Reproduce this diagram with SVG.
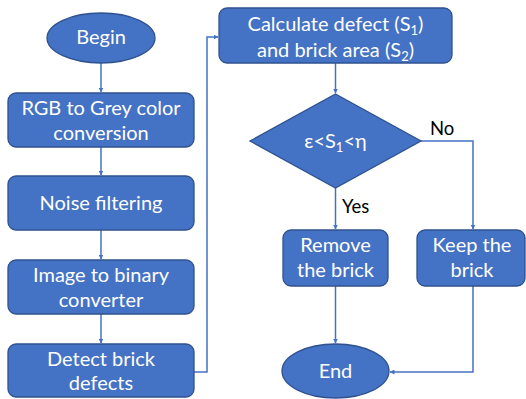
<svg xmlns="http://www.w3.org/2000/svg" width="526" height="399" viewBox="0 0 526 399">
<style>
.n{fill:#4472C4;stroke:#2F528F;stroke-width:1.3}
.t{fill:#fff;font-family:Lato,"Open Sans",sans-serif;font-size:20px;text-anchor:middle}
.l{fill:#000;font-family:Lato,"Open Sans",sans-serif;font-size:18.5px}
.c{fill:none;stroke:#4472C4;stroke-width:1.5}
</style>
<defs>
<marker id="a" viewBox="0 0 10 10" refX="9" refY="5" markerWidth="5" markerHeight="5" orient="auto" markerUnits="userSpaceOnUse">
<path d="M0,0 L10,5 L0,10 z" fill="#4472C4"/>
</marker>
</defs>
<rect width="526" height="399" fill="#fff"/>
<g id="connectors">
<path class="c" d="M101,63 V92" marker-end="url(#a)"/>
<path class="c" d="M101,147 V175" marker-end="url(#a)"/>
<path class="c" d="M101,230 V259" marker-end="url(#a)"/>
<path class="c" d="M101,314 V343" marker-end="url(#a)"/>
<path class="c" d="M194,372 H207 V37 H218" marker-end="url(#a)"/>
<path class="c" d="M335.5,63 V93" marker-end="url(#a)"/>
<path class="c" d="M335.5,188 V229" marker-end="url(#a)"/>
<path class="c" d="M421,141 H473 V229" marker-end="url(#a)"/>
<path class="c" d="M335.5,286 V343" marker-end="url(#a)"/>
<path class="c" d="M473,286 V372 H390" marker-end="url(#a)"/>
<text class="l" x="430" y="135">No</text>
<text class="l" x="342" y="213">Yes</text>
</g>
<g id="begin">
<ellipse class="n" cx="101" cy="38" rx="54" ry="25"/>
<text class="t" x="101" y="44">Begin</text>
</g>
<g id="rgb">
<rect class="n" x="8" y="93" width="186" height="54" rx="8"/>
<text class="t" x="101" y="115">RGB to Grey color</text>
<text class="t" x="101" y="140">conversion</text>
</g>
<g id="noise">
<rect class="n" x="8" y="176" width="186" height="54" rx="8"/>
<text class="t" x="101" y="210">Noise filtering</text>
</g>
<g id="binary">
<rect class="n" x="8" y="260" width="186" height="54" rx="8"/>
<text class="t" x="101" y="282">Image to binary</text>
<text class="t" x="101" y="307">converter</text>
</g>
<g id="detect">
<rect class="n" x="8" y="344" width="186" height="53" rx="8"/>
<text class="t" x="101" y="366">Detect brick</text>
<text class="t" x="101" y="390">defects</text>
</g>
<g id="calc">
<rect class="n" x="219" y="8" width="233" height="55" rx="8"/>
<text class="t" x="335.5" y="31">Calculate defect (S<tspan font-size="13" dy="4">1</tspan><tspan dy="-4">)</tspan></text>
<text class="t" x="335.5" y="57">and brick area (S<tspan font-size="13" dy="4">2</tspan><tspan dy="-4">)</tspan></text>
</g>
<g id="decision">
<polygon class="n" points="335.5,94 421,141 335.5,188 250,141"/>
<text class="t" x="335.5" y="148">ε&lt;S<tspan font-size="13" dy="4">1</tspan><tspan dy="-4">&lt;η</tspan></text>
</g>
<g id="remove">
<rect class="n" x="283" y="230" width="105" height="56" rx="8"/>
<text class="t" x="335.5" y="252">Remove</text>
<text class="t" x="335.5" y="277">the brick</text>
</g>
<g id="keep">
<rect class="n" x="417" y="230" width="108" height="56" rx="8"/>
<text class="t" x="472" y="252">Keep the</text>
<text class="t" x="472" y="277">brick</text>
</g>
<g id="end">
<ellipse class="n" cx="335.5" cy="371" rx="53.5" ry="27"/>
<text class="t" x="335.5" y="378">End</text>
</g>
</svg>
